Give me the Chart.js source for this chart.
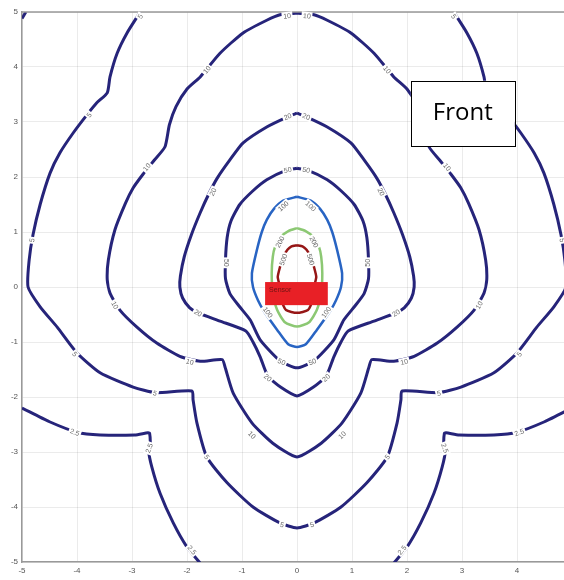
<!DOCTYPE html>
<html>
<head>
<meta charset="utf-8">
<script src="https://cdn.jsdelivr.net/npm/chart.js@4.4.1/dist/chart.umd.min.js"></script>
<style>
  html, body { margin: 0; padding: 0; background: #fff; overflow: hidden; }
  #wrap { width: 600px; height: 580px; }
</style>
</head>
<body>
<div id="wrap"><canvas id="myChart" width="600" height="580"></canvas></div>
<script>
// contour lines, [x, y] in plot units
const c25Left = [[-5, -2.2], [-4.5, -2.45], [-4, -2.64], [-3.58, -2.69], [-2.95, -2.69], [-2.71, -2.65], [-2.68, -2.66],
  [-2.67, -2.87], [-2.7, -2.96], [-2.64, -3.27], [-2.49, -3.75], [-2.25, -4.29], [-2.0, -4.73], [-1.76, -5.02]];
const c25Right = [[1.76, -5.02], [2.0, -4.73], [2.25, -4.29], [2.49, -3.75], [2.64, -3.27], [2.7, -2.96], [2.67, -2.87],
  [2.68, -2.66], [2.71, -2.65], [2.95, -2.69], [3.58, -2.69], [4, -2.64], [4.5, -2.45], [5, -2.2]];
const c25Corner = [[-5, 4.88], [-4.93, 5]];

const c5 = [[-2.85, 5.0], [-3.09, 4.62], [-3.27, 4.25], [-3.4, 3.82], [-3.45, 3.53], [-3.64, 3.35], [-3.82, 3.13],
  [-4.07, 2.8], [-4.31, 2.44], [-4.49, 2.07], [-4.67, 1.5], [-4.8, 0.95], [-4.87, 0.49], [-4.89, 0],
  [-4.67, -0.36], [-4.36, -0.73], [-4.0, -1.2], [-3.58, -1.56], [-2.98, -1.82], [-2.58, -1.92], [-1.91, -1.89],
  [-1.89, -2.05], [-1.82, -2.47], [-1.64, -3.09], [-1.27, -3.56], [-0.8, -4.0], [-0.31, -4.29], [0, -4.38],
  [0.31, -4.29], [0.8, -4.0], [1.27, -3.56], [1.64, -3.09], [1.82, -2.47], [1.89, -2.05], [1.91, -1.89],
  [2.58, -1.92], [2.98, -1.82], [3.58, -1.56], [4.0, -1.2], [4.36, -0.73], [4.67, -0.36], [4.89, 0],
  [4.87, 0.49], [4.8, 0.95], [4.67, 1.5], [4.49, 2.07], [4.31, 2.44], [4.07, 2.8], [3.82, 3.13], [3.64, 3.35],
  [3.45, 3.53], [3.4, 3.82], [3.27, 4.25], [3.09, 4.62], [2.85, 5.0]];

const c10 = [[0, 4.98], [-0.31, 4.95], [-0.55, 4.85], [-0.98, 4.62], [-1.4, 4.25], [-1.76, 3.82], [-2.0, 3.6],
  [-2.2, 3.28], [-2.32, 2.95], [-2.4, 2.55], [-2.6, 2.3], [-2.8, 2.05], [-2.98, 1.8], [-3.12, 1.52],
  [-3.31, 1.04], [-3.43, 0.49], [-3.45, 0.13], [-3.4, -0.11], [-3.22, -0.42], [-2.91, -0.73], [-2.55, -1.02],
  [-2.13, -1.26], [-1.76, -1.35], [-1.36, -1.32], [-1.31, -1.45], [-1.16, -1.93], [-0.82, -2.47], [-0.44, -2.84],
  [0, -3.09], [0.44, -2.84], [0.82, -2.47], [1.16, -1.93], [1.31, -1.45], [1.36, -1.32], [1.76, -1.35],
  [2.13, -1.26], [2.55, -1.02], [2.91, -0.73], [3.22, -0.42], [3.4, -0.11], [3.45, 0.13], [3.43, 0.49],
  [3.31, 1.04], [3.12, 1.52], [2.98, 1.8], [2.8, 2.05], [2.6, 2.3], [2.4, 2.55], [2.32, 2.95], [2.2, 3.28],
  [2.0, 3.6], [1.76, 3.82], [1.4, 4.25], [0.98, 4.62], [0.55, 4.85], [0.31, 4.95], [0, 4.98]];

const c20 = [[0, 3.16], [-0.18, 3.09], [-0.55, 2.91], [-0.98, 2.62], [-1.22, 2.31], [-1.45, 1.98], [-1.6, 1.7],
  [-1.76, 1.35], [-1.92, 0.95], [-2.05, 0.55], [-2.12, 0.2], [-2.13, 0], [-2.08, -0.2], [-1.95, -0.38],
  [-1.8, -0.47], [-1.4, -0.62], [-0.93, -0.8], [-0.8, -1.0], [-0.67, -1.27], [-0.53, -1.62], [-0.3, -1.82],
  [0, -1.98], [0.3, -1.82], [0.53, -1.62], [0.67, -1.27], [0.8, -1.0], [0.93, -0.8], [1.4, -0.62], [1.8, -0.47],
  [1.95, -0.38], [2.08, -0.2], [2.13, 0], [2.12, 0.2], [2.05, 0.55], [1.92, 0.95], [1.76, 1.35], [1.6, 1.7],
  [1.45, 1.98], [1.22, 2.31], [0.98, 2.62], [0.55, 2.91], [0.18, 3.09], [0, 3.16]];

const c50 = [[0, 2.16], [-0.2, 2.12], [-0.55, 1.95], [-0.8, 1.75], [-1.04, 1.5], [-1.2, 1.2], [-1.27, 0.9],
  [-1.3, 0.5], [-1.3, 0.15], [-1.22, -0.12], [-1.05, -0.35], [-0.85, -0.6], [-0.67, -0.96], [-0.31, -1.34],
  [0, -1.47], [0.31, -1.34], [0.67, -0.96], [0.85, -0.6], [1.05, -0.35], [1.22, -0.12], [1.3, 0.15], [1.3, 0.5],
  [1.27, 0.9], [1.2, 1.2], [1.04, 1.5], [0.8, 1.75], [0.55, 1.95], [0.2, 2.12], [0, 2.16]];

const c100 = [[0, 1.64], [-0.25, 1.57], [-0.42, 1.42], [-0.55, 1.22], [-0.64, 1.0], [-0.73, 0.67], [-0.82, 0.25],
  [-0.8, 0], [-0.71, -0.24], [-0.6, -0.44], [-0.36, -0.78], [-0.16, -1.04], [0, -1.09], [0.16, -1.04],
  [0.36, -0.78], [0.6, -0.44], [0.71, -0.24], [0.8, 0], [0.82, 0.25], [0.73, 0.67], [0.64, 1.0], [0.55, 1.22],
  [0.42, 1.42], [0.25, 1.57], [0, 1.64]];

const c200 = [[0, 1.07], [-0.15, 1.02], [-0.31, 0.9], [-0.4, 0.73], [-0.44, 0.55], [-0.46, 0.25], [-0.44, -0.11],
  [-0.36, -0.42], [-0.22, -0.64], [0, -0.72], [0.22, -0.64], [0.36, -0.42], [0.44, -0.11], [0.46, 0.25],
  [0.44, 0.55], [0.4, 0.73], [0.31, 0.9], [0.15, 1.02], [0, 1.07]];

const c500 = [[0, 0.76], [-0.1, 0.74], [-0.17, 0.68], [-0.25, 0.55], [-0.31, 0.36], [-0.35, 0.18], [-0.31, 0.0],
  [-0.28, -0.25], [-0.2, -0.42], [0, -0.47], [0.2, -0.42], [0.28, -0.25], [0.31, 0.0], [0.35, 0.18],
  [0.31, 0.36], [0.25, 0.55], [0.17, 0.68], [0.1, 0.74], [0, 0.76]];

// contour labels: [x, y, text]
const levelLabels = [
  [-4.04, -2.64, '2.5'], [-2.69, -2.93, '2.5'], [-1.91, -4.78, '2.5'],
  [4.04, -2.64, '2.5'], [2.69, -2.93, '2.5'], [1.91, -4.78, '2.5'],
  [-2.85, 4.92, '5'], [2.85, 4.92, '5'], [-3.78, 3.13, '5'], [3.75, 3.13, '5'], [-4.82, 0.85, '5'], [4.82, 0.85, '5'],
  [-4.04, -1.22, '5'], [4.04, -1.22, '5'], [-2.58, -1.93, '5'], [2.58, -1.93, '5'],
  [-1.64, -3.09, '5'], [1.64, -3.09, '5'], [-0.27, -4.32, '5'], [0.27, -4.32, '5'],
  [-0.18, 4.93, '10'], [0.18, 4.93, '10'], [-1.64, 3.95, '10'], [1.64, 3.95, '10'], [-2.73, 2.18, '10'], [2.73, 2.18, '10'],
  [-3.31, -0.33, '10'], [3.31, -0.33, '10'], [-1.95, -1.36, '10'], [1.95, -1.36, '10'], [-0.82, -2.69, '10'], [0.82, -2.69, '10'],
  [-0.17, 3.1, '20'], [0.17, 3.1, '20'], [-1.53, 1.73, '20'], [1.53, 1.73, '20'],
  [-1.8, -0.47, '20'], [1.8, -0.47, '20'], [-0.53, -1.65, '20'], [0.53, -1.65, '20'],
  [-0.17, 2.13, '50'], [0.17, 2.13, '50'], [-1.28, 0.44, '50'], [1.28, 0.44, '50'], [-0.28, -1.36, '50'], [0.28, -1.36, '50'],
  [-0.25, 1.47, '100'], [0.25, 1.47, '100'], [-0.53, -0.46, '100'], [0.53, -0.46, '100'],
  [-0.31, 0.82, '200'], [0.31, 0.82, '200'],
  [-0.25, 0.5, '500'], [0.25, 0.5, '500']
];

const sensorBox = [-0.58, 0.09, 0.56, -0.33];
const frontBox = [2.07, 3.75, 3.96, 2.56];

const navy = 'rgb(38,36,122)';
const toPts = (arr) => arr.map((p) => ({ x: p[0], y: p[1] }));
const line = (arr, color, w) => ({
  data: toPts(arr), showLine: true, borderColor: color, borderWidth: w,
  pointRadius: 0, tension: 0.2, fill: false, clip: 0
});

const decor = {
  id: 'decor',
  afterDatasetsDraw(chart) {
    const { ctx, chartArea: a, scales: { x, y } } = chart;
    ctx.save();
    // top border
    ctx.strokeStyle = '#999';
    ctx.lineWidth = 1.5;
    ctx.beginPath();
    ctx.moveTo(a.left, a.top);
    ctx.lineTo(a.right, a.top);
    ctx.stroke();
    // level labels, turned along the nearest line
    const all = [c25Left, c25Right, c5, c10, c20, c50, c100, c200, c500];
    ctx.font = '7px "Liberation Sans", Arial, sans-serif';
    ctx.textAlign = 'center';
    ctx.textBaseline = 'middle';
    levelLabels.forEach(([lx, ly, t]) => {
      const px = x.getPixelForValue(lx), py = y.getPixelForValue(ly);
      let best = 1e9, ang = 0;
      all.forEach((c) => {
        for (let i = 0; i < c.length - 1; i++) {
          const ax = x.getPixelForValue(c[i][0]), ay = y.getPixelForValue(c[i][1]);
          const bx = x.getPixelForValue(c[i + 1][0]), by = y.getPixelForValue(c[i + 1][1]);
          const mx = (ax + bx) / 2, my = (ay + by) / 2;
          const d = Math.hypot(mx - px, my - py);
          if (d < best) { best = d; ang = Math.atan2(by - ay, bx - ax); }
        }
      });
      if (ang > Math.PI / 2) ang -= Math.PI;
      if (ang < -Math.PI / 2) ang += Math.PI;
      ctx.save();
      ctx.translate(px, py);
      ctx.rotate(ang);
      const w = ctx.measureText(t).width + 3;
      ctx.fillStyle = '#fff';
      ctx.fillRect(-w / 2, -4, w, 8);
      ctx.fillStyle = '#6a6a6a';
      ctx.fillText(t, 0, 0.5);
      ctx.restore();
    });
    // sensor
    const sx0 = x.getPixelForValue(sensorBox[0]), sy0 = y.getPixelForValue(sensorBox[1]);
    const sx1 = x.getPixelForValue(sensorBox[2]), sy1 = y.getPixelForValue(sensorBox[3]);
    ctx.fillStyle = 'rgb(232,32,38)';
    ctx.fillRect(sx0, sy0, sx1 - sx0, sy1 - sy0);
    ctx.fillStyle = 'rgb(110,20,20)';
    ctx.font = '7px "Liberation Sans", Arial, sans-serif';
    ctx.textAlign = 'left';
    ctx.fillText('Sensor', sx0 + 4, sy0 + 8);
    // front box
    const fx0 = x.getPixelForValue(frontBox[0]), fy0 = y.getPixelForValue(frontBox[1]);
    const fx1 = x.getPixelForValue(frontBox[2]), fy1 = y.getPixelForValue(frontBox[3]);
    ctx.fillStyle = '#fff';
    ctx.fillRect(fx0, fy0, fx1 - fx0, fy1 - fy0);
    ctx.strokeStyle = '#000';
    ctx.lineWidth = 1;
    ctx.strokeRect(Math.round(fx0) + 0.5, Math.round(fy0) + 0.5, Math.round(fx1 - fx0), Math.round(fy1 - fy0));
    ctx.fillStyle = '#000';
    ctx.font = '24px "Open Sans", "Liberation Sans", sans-serif';
    ctx.textAlign = 'center';
    ctx.textBaseline = 'middle';
    ctx.fillText('Front', (fx0 + fx1) / 2, (fy0 + fy1) / 2);
    ctx.restore();
  }
};

const tickFont = { family: '"Liberation Sans", Arial, sans-serif', size: 8 };

new Chart(document.getElementById('myChart'), {
  type: 'scatter',
  data: {
    datasets: [
      line(c25Left, navy, 3), line(c25Right, navy, 3), line(c25Corner, navy, 3),
      line(c5, navy, 3), line(c10, navy, 3), line(c20, navy, 3), line(c50, navy, 3),
      line(c100, 'rgb(40,100,195)', 2.5), line(c200, 'rgb(140,200,115)', 2.5), line(c500, 'rgb(150,22,22)', 2.5)
    ]
  },
  options: {
    responsive: false,
    animation: false,
    events: [],
    layout: { padding: { left: 0, top: 12, right: 28, bottom: 0 } },
    plugins: { legend: { display: false }, tooltip: { enabled: false } },
    scales: {
      x: {
        type: 'linear', min: -5, max: 5,
        afterFit: (s) => { s.height = 18; },
        border: { color: '#999', width: 1.5 },
        grid: { color: 'rgba(0,0,0,0.08)', drawTicks: false },
        ticks: { stepSize: 1, color: '#555', font: tickFont, padding: 4 }
      },
      y: {
        type: 'linear', min: -5, max: 5,
        afterFit: (s) => { s.width = 22; },
        border: { color: '#999', width: 1.5 },
        grid: { color: 'rgba(0,0,0,0.08)', drawTicks: false },
        ticks: { stepSize: 1, color: '#555', font: tickFont, padding: 4 }
      }
    }
  },
  plugins: [decor]
});
</script>
</body>
</html>
